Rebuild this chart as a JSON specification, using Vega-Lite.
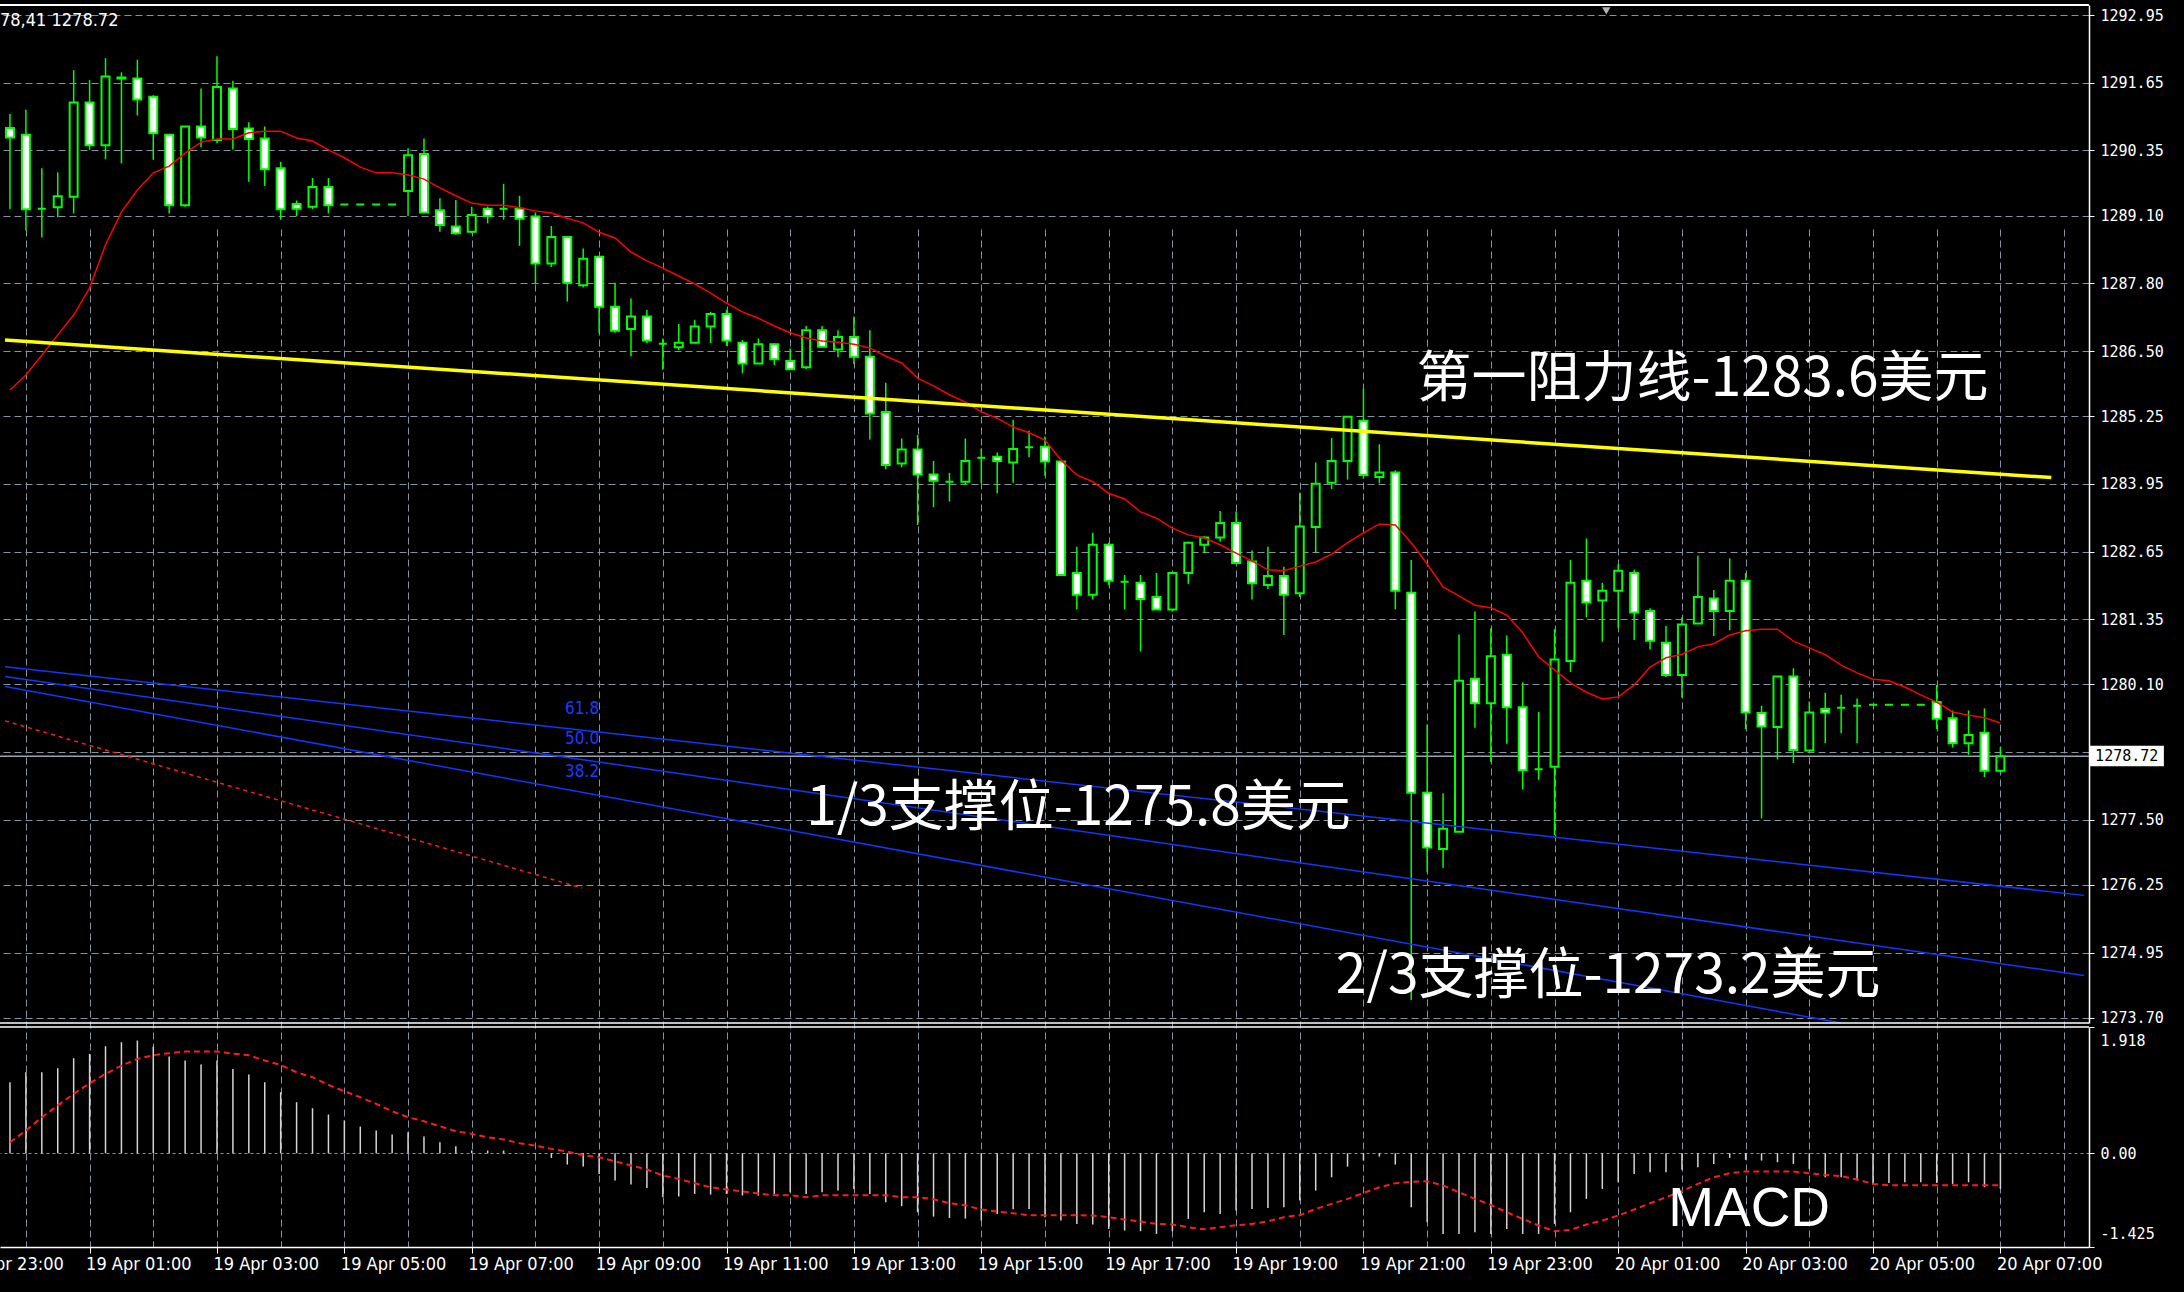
{
"$schema":"https://vega.github.io/schema/vega-lite/v6.json",
"width":2089,"height":1242,
"autosize":{"type":"none"},
"padding":{"left":0,"top":5,"right":95,"bottom":45},
"background":"#000000",
"config":{"view":{"stroke":null}},
"datasets":{"bars":[
{"t":"2017-04-18T23:45","o":1290.78,"h":1291.05,"l":1289.22,"c":1290.60,"ma":1285.75,"m":1.079,"s":0.167},
{"t":"2017-04-19T00:00","o":1290.65,"h":1291.13,"l":1288.82,"c":1289.22,"ma":1286.04,"m":1.231,"s":0.344},
{"t":"2017-04-19T00:15","o":1289.23,"h":1290.01,"l":1288.68,"c":1289.23,"ma":1286.42,"m":1.231,"s":0.547},
{"t":"2017-04-19T00:30","o":1289.26,"h":1289.93,"l":1289.07,"c":1289.47,"ma":1286.81,"m":1.292,"s":0.724},
{"t":"2017-04-19T00:45","o":1289.46,"h":1291.89,"l":1289.14,"c":1291.27,"ma":1287.19,"m":1.444,"s":0.902},
{"t":"2017-04-19T01:00","o":1291.27,"h":1291.70,"l":1290.36,"c":1290.45,"ma":1287.71,"m":1.509,"s":1.064},
{"t":"2017-04-19T01:15","o":1290.45,"h":1292.12,"l":1290.18,"c":1291.77,"ma":1288.54,"m":1.626,"s":1.205},
{"t":"2017-04-19T01:30","o":1291.75,"h":1291.85,"l":1290.10,"c":1291.73,"ma":1289.17,"m":1.687,"s":1.332},
{"t":"2017-04-19T01:45","o":1291.73,"h":1292.09,"l":1291.02,"c":1291.33,"ma":1289.59,"m":1.712,"s":1.433},
{"t":"2017-04-19T02:00","o":1291.38,"h":1291.41,"l":1290.17,"c":1290.68,"ma":1289.92,"m":1.621,"s":1.489},
{"t":"2017-04-19T02:15","o":1290.65,"h":1290.65,"l":1289.14,"c":1289.30,"ma":1290.05,"m":1.469,"s":1.520},
{"t":"2017-04-19T02:30","o":1289.30,"h":1290.81,"l":1289.27,"c":1290.81,"ma":1290.30,"m":1.408,"s":1.545},
{"t":"2017-04-19T02:45","o":1290.81,"h":1291.54,"l":1290.41,"c":1290.60,"ma":1290.51,"m":1.347,"s":1.545},
{"t":"2017-04-19T03:00","o":1290.55,"h":1292.16,"l":1290.49,"c":1291.57,"ma":1290.57,"m":1.408,"s":1.545},
{"t":"2017-04-19T03:15","o":1291.54,"h":1291.69,"l":1290.37,"c":1290.76,"ma":1290.57,"m":1.281,"s":1.514},
{"t":"2017-04-19T03:30","o":1290.77,"h":1290.89,"l":1289.75,"c":1290.57,"ma":1290.69,"m":1.195,"s":1.489},
{"t":"2017-04-19T03:45","o":1290.58,"h":1290.81,"l":1289.67,"c":1289.99,"ma":1290.72,"m":1.079,"s":1.408},
{"t":"2017-04-19T04:00","o":1290.01,"h":1290.13,"l":1289.02,"c":1289.22,"ma":1290.72,"m":0.927,"s":1.342},
{"t":"2017-04-19T04:15","o":1289.32,"h":1289.39,"l":1289.09,"c":1289.23,"ma":1290.59,"m":0.775,"s":1.231},
{"t":"2017-04-19T04:30","o":1289.27,"h":1289.82,"l":1289.22,"c":1289.65,"ma":1290.53,"m":0.684,"s":1.155},
{"t":"2017-04-19T04:45","o":1289.65,"h":1289.82,"l":1289.14,"c":1289.30,"ma":1290.36,"m":0.588,"s":1.038},
{"t":"2017-04-19T05:00","o":1289.31,"h":1289.31,"l":1289.31,"c":1289.31,"ma":1290.21,"m":0.496,"s":0.942},
{"t":"2017-04-19T05:15","o":1289.31,"h":1289.31,"l":1289.31,"c":1289.31,"ma":1290.03,"m":0.405,"s":0.851},
{"t":"2017-04-19T05:30","o":1289.31,"h":1289.31,"l":1289.31,"c":1289.31,"ma":1289.92,"m":0.344,"s":0.750},
{"t":"2017-04-19T05:45","o":1289.31,"h":1289.31,"l":1289.31,"c":1289.31,"ma":1289.92,"m":0.284,"s":0.638},
{"t":"2017-04-19T06:00","o":1289.57,"h":1290.39,"l":1289.09,"c":1290.26,"ma":1289.88,"m":0.319,"s":0.547},
{"t":"2017-04-19T06:15","o":1290.28,"h":1290.58,"l":1289.14,"c":1289.16,"ma":1289.80,"m":0.253,"s":0.486},
{"t":"2017-04-19T06:30","o":1289.20,"h":1289.43,"l":1288.79,"c":1288.92,"ma":1289.63,"m":0.167,"s":0.410},
{"t":"2017-04-19T06:45","o":1288.89,"h":1289.40,"l":1288.73,"c":1288.76,"ma":1289.48,"m":0.106,"s":0.334},
{"t":"2017-04-19T07:00","o":1288.79,"h":1289.27,"l":1288.76,"c":1289.11,"ma":1289.34,"m":0.041,"s":0.294},
{"t":"2017-04-19T07:15","o":1289.23,"h":1289.27,"l":1288.95,"c":1289.09,"ma":1289.30,"m":0.041,"s":0.243},
{"t":"2017-04-19T07:30","o":1289.23,"h":1289.71,"l":1289.02,"c":1289.23,"ma":1289.30,"m":0.041,"s":0.208},
{"t":"2017-04-19T07:45","o":1289.23,"h":1289.48,"l":1288.52,"c":1289.04,"ma":1289.25,"m":0.005,"s":0.152},
{"t":"2017-04-19T08:00","o":1289.08,"h":1289.16,"l":1287.80,"c":1288.18,"ma":1289.19,"m":-0.010,"s":0.116},
{"t":"2017-04-19T08:15","o":1288.18,"h":1288.90,"l":1288.11,"c":1288.69,"ma":1289.15,"m":-0.071,"s":0.066},
{"t":"2017-04-19T08:30","o":1288.69,"h":1288.69,"l":1287.45,"c":1287.81,"ma":1289.05,"m":-0.172,"s":0.025},
{"t":"2017-04-19T08:45","o":1287.76,"h":1288.47,"l":1287.72,"c":1288.27,"ma":1288.96,"m":-0.203,"s":-0.030},
{"t":"2017-04-19T09:00","o":1288.31,"h":1288.31,"l":1286.84,"c":1287.35,"ma":1288.78,"m":-0.314,"s":-0.061},
{"t":"2017-04-19T09:15","o":1287.35,"h":1287.81,"l":1286.85,"c":1286.89,"ma":1288.67,"m":-0.415,"s":-0.122},
{"t":"2017-04-19T09:30","o":1286.92,"h":1287.51,"l":1286.40,"c":1287.16,"ma":1288.40,"m":-0.476,"s":-0.187},
{"t":"2017-04-19T09:45","o":1287.16,"h":1287.29,"l":1286.65,"c":1286.70,"ma":1288.23,"m":-0.527,"s":-0.248},
{"t":"2017-04-19T10:00","o":1286.64,"h":1286.74,"l":1286.14,"c":1286.64,"ma":1288.09,"m":-0.669,"s":-0.339},
{"t":"2017-04-19T10:15","o":1286.57,"h":1287.02,"l":1286.52,"c":1286.66,"ma":1287.94,"m":-0.658,"s":-0.390},
{"t":"2017-04-19T10:30","o":1286.66,"h":1287.10,"l":1286.65,"c":1286.97,"ma":1287.79,"m":-0.618,"s":-0.456},
{"t":"2017-04-19T10:45","o":1286.97,"h":1287.25,"l":1286.65,"c":1287.21,"ma":1287.61,"m":-0.628,"s":-0.517},
{"t":"2017-04-19T11:00","o":1287.21,"h":1287.29,"l":1286.60,"c":1286.70,"ma":1287.42,"m":-0.618,"s":-0.552},
{"t":"2017-04-19T11:15","o":1286.66,"h":1286.71,"l":1286.07,"c":1286.26,"ma":1287.25,"m":-0.643,"s":-0.582},
{"t":"2017-04-19T11:30","o":1286.26,"h":1286.74,"l":1286.26,"c":1286.63,"ma":1287.13,"m":-0.643,"s":-0.613},
{"t":"2017-04-19T11:45","o":1286.63,"h":1286.65,"l":1286.23,"c":1286.34,"ma":1286.98,"m":-0.618,"s":-0.638},
{"t":"2017-04-19T12:00","o":1286.31,"h":1286.55,"l":1286.15,"c":1286.15,"ma":1286.85,"m":-0.593,"s":-0.638},
{"t":"2017-04-19T12:15","o":1286.19,"h":1286.98,"l":1286.15,"c":1286.90,"ma":1286.75,"m":-0.618,"s":-0.669},
{"t":"2017-04-19T12:30","o":1286.90,"h":1286.98,"l":1286.57,"c":1286.58,"ma":1286.69,"m":-0.593,"s":-0.638},
{"t":"2017-04-19T12:45","o":1286.53,"h":1286.90,"l":1286.38,"c":1286.77,"ma":1286.67,"m":-0.567,"s":-0.638},
{"t":"2017-04-19T13:00","o":1286.77,"h":1287.16,"l":1286.25,"c":1286.39,"ma":1286.63,"m":-0.542,"s":-0.638},
{"t":"2017-04-19T13:15","o":1286.39,"h":1286.90,"l":1284.80,"c":1285.30,"ma":1286.56,"m":-0.618,"s":-0.638},
{"t":"2017-04-19T13:30","o":1285.33,"h":1285.89,"l":1284.23,"c":1284.31,"ma":1286.40,"m":-0.744,"s":-0.638},
{"t":"2017-04-19T13:45","o":1284.34,"h":1284.82,"l":1284.27,"c":1284.61,"ma":1286.27,"m":-0.805,"s":-0.669},
{"t":"2017-04-19T14:00","o":1284.61,"h":1284.89,"l":1283.16,"c":1284.13,"ma":1285.98,"m":-0.897,"s":-0.669},
{"t":"2017-04-19T14:15","o":1284.13,"h":1284.39,"l":1283.50,"c":1284.01,"ma":1285.83,"m":-0.962,"s":-0.699},
{"t":"2017-04-19T14:30","o":1283.99,"h":1284.16,"l":1283.61,"c":1283.99,"ma":1285.66,"m":-0.983,"s":-0.760},
{"t":"2017-04-19T14:45","o":1283.99,"h":1284.82,"l":1283.93,"c":1284.39,"ma":1285.52,"m":-0.993,"s":-0.790},
{"t":"2017-04-19T15:00","o":1284.45,"h":1284.63,"l":1283.96,"c":1284.45,"ma":1285.33,"m":-1.023,"s":-0.856},
{"t":"2017-04-19T15:15","o":1284.47,"h":1284.55,"l":1283.77,"c":1284.39,"ma":1285.21,"m":-0.922,"s":-0.886},
{"t":"2017-04-19T15:30","o":1284.36,"h":1285.18,"l":1283.97,"c":1284.62,"ma":1285.04,"m":-0.851,"s":-0.912},
{"t":"2017-04-19T15:45","o":1284.65,"h":1284.97,"l":1284.46,"c":1284.65,"ma":1284.93,"m":-0.846,"s":-0.942},
{"t":"2017-04-19T16:00","o":1284.66,"h":1284.86,"l":1284.10,"c":1284.38,"ma":1284.79,"m":-0.972,"s":-0.942},
{"t":"2017-04-19T16:15","o":1284.38,"h":1284.39,"l":1282.20,"c":1282.20,"ma":1284.41,"m":-1.023,"s":-0.942},
{"t":"2017-04-19T16:30","o":1282.24,"h":1282.74,"l":1281.54,"c":1281.82,"ma":1284.12,"m":-1.074,"s":-0.942},
{"t":"2017-04-19T16:45","o":1281.82,"h":1283.01,"l":1281.73,"c":1282.78,"ma":1283.99,"m":-1.084,"s":-0.947},
{"t":"2017-04-19T17:00","o":1282.78,"h":1282.82,"l":1282.01,"c":1282.09,"ma":1283.77,"m":-1.150,"s":-0.972},
{"t":"2017-04-19T17:15","o":1282.07,"h":1282.20,"l":1281.54,"c":1282.07,"ma":1283.66,"m":-1.175,"s":-1.008},
{"t":"2017-04-19T17:30","o":1282.05,"h":1282.20,"l":1280.73,"c":1281.74,"ma":1283.41,"m":-1.185,"s":-1.038},
{"t":"2017-04-19T17:45","o":1281.78,"h":1282.24,"l":1281.54,"c":1281.54,"ma":1283.29,"m":-1.226,"s":-1.074},
{"t":"2017-04-19T18:00","o":1281.54,"h":1282.26,"l":1281.50,"c":1282.24,"ma":1283.10,"m":-1.185,"s":-1.084},
{"t":"2017-04-19T18:15","o":1282.24,"h":1282.84,"l":1282.03,"c":1282.82,"ma":1282.97,"m":-0.998,"s":-1.124},
{"t":"2017-04-19T18:30","o":1282.78,"h":1282.94,"l":1282.62,"c":1282.92,"ma":1282.91,"m":-0.897,"s":-1.155},
{"t":"2017-04-19T18:45","o":1282.92,"h":1283.43,"l":1282.84,"c":1283.20,"ma":1282.78,"m":-0.922,"s":-1.124},
{"t":"2017-04-19T19:00","o":1283.20,"h":1283.42,"l":1282.43,"c":1282.43,"ma":1282.62,"m":-0.871,"s":-1.094},
{"t":"2017-04-19T19:15","o":1282.46,"h":1282.67,"l":1281.73,"c":1282.04,"ma":1282.47,"m":-0.846,"s":-1.074},
{"t":"2017-04-19T19:30","o":1282.01,"h":1282.74,"l":1281.93,"c":1282.18,"ma":1282.30,"m":-0.831,"s":-1.033},
{"t":"2017-04-19T19:45","o":1282.18,"h":1282.36,"l":1281.05,"c":1281.82,"ma":1282.28,"m":-0.821,"s":-0.972},
{"t":"2017-04-19T20:00","o":1281.85,"h":1283.78,"l":1281.78,"c":1283.13,"ma":1282.37,"m":-0.719,"s":-0.942},
{"t":"2017-04-19T20:15","o":1283.12,"h":1284.36,"l":1282.62,"c":1283.95,"ma":1282.45,"m":-0.567,"s":-0.846},
{"t":"2017-04-19T20:30","o":1283.97,"h":1284.83,"l":1283.85,"c":1284.39,"ma":1282.60,"m":-0.365,"s":-0.770},
{"t":"2017-04-19T20:45","o":1284.39,"h":1285.24,"l":1284.03,"c":1285.24,"ma":1282.82,"m":-0.203,"s":-0.694},
{"t":"2017-04-19T21:00","o":1285.16,"h":1285.78,"l":1284.05,"c":1284.12,"ma":1283.01,"m":-0.111,"s":-0.603},
{"t":"2017-04-19T21:15","o":1284.08,"h":1284.71,"l":1283.96,"c":1284.17,"ma":1283.18,"m":-0.051,"s":-0.517},
{"t":"2017-04-19T21:30","o":1284.17,"h":1284.21,"l":1281.54,"c":1281.90,"ma":1283.16,"m":-0.172,"s":-0.456},
{"t":"2017-04-19T21:45","o":1281.86,"h":1282.49,"l":1274.04,"c":1278.02,"ma":1282.82,"m":-0.821,"s":-0.436},
{"t":"2017-04-19T22:00","o":1278.02,"h":1279.33,"l":1276.50,"c":1276.97,"ma":1282.41,"m":-1.048,"s":-0.425},
{"t":"2017-04-19T22:15","o":1276.94,"h":1278.01,"l":1276.58,"c":1277.33,"ma":1281.97,"m":-1.226,"s":-0.491},
{"t":"2017-04-19T22:30","o":1277.27,"h":1281.06,"l":1277.27,"c":1280.17,"ma":1281.80,"m":-1.226,"s":-0.593},
{"t":"2017-04-19T22:45","o":1280.21,"h":1281.50,"l":1279.27,"c":1279.74,"ma":1281.62,"m":-1.200,"s":-0.694},
{"t":"2017-04-19T23:00","o":1279.74,"h":1281.18,"l":1278.61,"c":1280.64,"ma":1281.57,"m":-1.226,"s":-0.785},
{"t":"2017-04-19T23:15","o":1280.67,"h":1281.04,"l":1278.96,"c":1279.66,"ma":1281.43,"m":-1.150,"s":-0.897},
{"t":"2017-04-19T23:30","o":1279.66,"h":1280.14,"l":1278.08,"c":1278.45,"ma":1281.09,"m":-1.226,"s":-0.998},
{"t":"2017-04-19T23:45","o":1278.47,"h":1279.57,"l":1278.27,"c":1278.47,"ma":1280.63,"m":-1.226,"s":-1.099},
{"t":"2017-04-20T00:00","o":1278.52,"h":1281.16,"l":1277.21,"c":1280.58,"ma":1280.38,"m":-1.074,"s":-1.185},
{"t":"2017-04-20T00:15","o":1280.55,"h":1282.49,"l":1280.34,"c":1282.05,"ma":1280.13,"m":-0.897,"s":-1.165},
{"t":"2017-04-20T00:30","o":1282.09,"h":1282.90,"l":1281.39,"c":1281.67,"ma":1279.95,"m":-0.694,"s":-1.084},
{"t":"2017-04-20T00:45","o":1281.71,"h":1282.05,"l":1280.92,"c":1281.90,"ma":1279.82,"m":-0.542,"s":-1.023},
{"t":"2017-04-20T01:00","o":1281.90,"h":1282.41,"l":1281.18,"c":1282.28,"ma":1279.86,"m":-0.441,"s":-0.947},
{"t":"2017-04-20T01:15","o":1282.24,"h":1282.30,"l":1280.95,"c":1281.48,"ma":1280.09,"m":-0.314,"s":-0.856},
{"t":"2017-04-20T01:30","o":1281.51,"h":1281.56,"l":1280.77,"c":1280.94,"ma":1280.43,"m":-0.289,"s":-0.760},
{"t":"2017-04-20T01:45","o":1280.90,"h":1281.22,"l":1280.24,"c":1280.28,"ma":1280.61,"m":-0.289,"s":-0.669},
{"t":"2017-04-20T02:00","o":1280.28,"h":1281.39,"l":1279.85,"c":1281.25,"ma":1280.68,"m":-0.253,"s":-0.577},
{"t":"2017-04-20T02:15","o":1281.27,"h":1282.57,"l":1281.27,"c":1281.78,"ma":1280.82,"m":-0.213,"s":-0.466},
{"t":"2017-04-20T02:30","o":1281.75,"h":1281.91,"l":1281.03,"c":1281.51,"ma":1280.88,"m":-0.162,"s":-0.365},
{"t":"2017-04-20T02:45","o":1281.51,"h":1282.52,"l":1281.14,"c":1282.09,"ma":1281.05,"m":-0.071,"s":-0.304},
{"t":"2017-04-20T03:00","o":1282.09,"h":1282.24,"l":1279.24,"c":1279.56,"ma":1281.13,"m":-0.101,"s":-0.279},
{"t":"2017-04-20T03:15","o":1279.55,"h":1279.69,"l":1277.53,"c":1279.29,"ma":1281.16,"m":-0.111,"s":-0.279},
{"t":"2017-04-20T03:30","o":1279.28,"h":1280.25,"l":1278.66,"c":1280.25,"ma":1281.16,"m":-0.137,"s":-0.279},
{"t":"2017-04-20T03:45","o":1280.25,"h":1280.41,"l":1278.59,"c":1278.84,"ma":1280.93,"m":-0.162,"s":-0.279},
{"t":"2017-04-20T04:00","o":1278.83,"h":1279.77,"l":1278.83,"c":1279.56,"ma":1280.80,"m":-0.238,"s":-0.304},
{"t":"2017-04-20T04:15","o":1279.63,"h":1279.94,"l":1278.97,"c":1279.56,"ma":1280.67,"m":-0.365,"s":-0.329},
{"t":"2017-04-20T04:30","o":1279.65,"h":1279.90,"l":1279.16,"c":1279.65,"ma":1280.47,"m":-0.365,"s":-0.349},
{"t":"2017-04-20T04:45","o":1279.69,"h":1279.83,"l":1278.97,"c":1279.69,"ma":1280.32,"m":-0.415,"s":-0.400},
{"t":"2017-04-20T05:00","o":1279.71,"h":1279.71,"l":1279.71,"c":1279.71,"ma":1280.20,"m":-0.466,"s":-0.466},
{"t":"2017-04-20T05:15","o":1279.71,"h":1279.71,"l":1279.71,"c":1279.71,"ma":1280.17,"m":-0.451,"s":-0.486},
{"t":"2017-04-20T05:30","o":1279.71,"h":1279.71,"l":1279.71,"c":1279.71,"ma":1280.05,"m":-0.441,"s":-0.486},
{"t":"2017-04-20T05:45","o":1279.71,"h":1279.71,"l":1279.71,"c":1279.71,"ma":1279.90,"m":-0.441,"s":-0.486},
{"t":"2017-04-20T06:00","o":1279.76,"h":1280.09,"l":1279.24,"c":1279.44,"ma":1279.76,"m":-0.451,"s":-0.486},
{"t":"2017-04-20T06:15","o":1279.45,"h":1279.60,"l":1278.89,"c":1278.97,"ma":1279.57,"m":-0.466,"s":-0.486},
{"t":"2017-04-20T06:30","o":1278.97,"h":1279.60,"l":1278.75,"c":1279.13,"ma":1279.51,"m":-0.441,"s":-0.486},
{"t":"2017-04-20T06:45","o":1279.17,"h":1279.64,"l":1278.32,"c":1278.44,"ma":1279.46,"m":-0.517,"s":-0.486},
{"t":"2017-04-20T07:00","o":1278.44,"h":1278.90,"l":1278.41,"c":1278.72,"ma":1279.36,"m":-0.542,"s":-0.486}
]},
"data":{"name":"bars"},
"resolve":{"scale":{"y":"independent"},"axis":{"y":"independent"}},
"layer":[
{"layer":[
 {"data":{"values":[{}]},
  "mark":{"type":"rule","color":"#9aa5b1","strokeWidth":1.5},
  "encoding":{"y":{"datum":1278.72,"type":"quantitative","scale":{"domain":[1273.60,1293.142],"range":[1018,0],"nice":false,"zero":false}}}},
 {"mark":{"type":"rule","color":"#00ff00","strokeWidth":1.5},
  "encoding":{
   "x":{"field":"t","type":"temporal","title":null,
     "scale":{"domain":[{"year":2017,"month":4,"date":18,"hours":23,"minutes":40,"seconds":19},{"year":2017,"month":4,"date":20,"hours":8,"minutes":18,"seconds":45}]},
     "axis":{"orient":"bottom","title":null,
       "values":[
        {"year":2017,"month":4,"date":19,"hours":0},{"year":2017,"month":4,"date":19,"hours":1},{"year":2017,"month":4,"date":19,"hours":2},{"year":2017,"month":4,"date":19,"hours":3},{"year":2017,"month":4,"date":19,"hours":4},{"year":2017,"month":4,"date":19,"hours":5},{"year":2017,"month":4,"date":19,"hours":6},{"year":2017,"month":4,"date":19,"hours":7},{"year":2017,"month":4,"date":19,"hours":8},{"year":2017,"month":4,"date":19,"hours":9},{"year":2017,"month":4,"date":19,"hours":10},{"year":2017,"month":4,"date":19,"hours":11},{"year":2017,"month":4,"date":19,"hours":12},{"year":2017,"month":4,"date":19,"hours":13},{"year":2017,"month":4,"date":19,"hours":14},{"year":2017,"month":4,"date":19,"hours":15},{"year":2017,"month":4,"date":19,"hours":16},{"year":2017,"month":4,"date":19,"hours":17},{"year":2017,"month":4,"date":19,"hours":18},{"year":2017,"month":4,"date":19,"hours":19},{"year":2017,"month":4,"date":19,"hours":20},{"year":2017,"month":4,"date":19,"hours":21},{"year":2017,"month":4,"date":19,"hours":22},{"year":2017,"month":4,"date":19,"hours":23},
        {"year":2017,"month":4,"date":20,"hours":0},{"year":2017,"month":4,"date":20,"hours":1},{"year":2017,"month":4,"date":20,"hours":2},{"year":2017,"month":4,"date":20,"hours":3},{"year":2017,"month":4,"date":20,"hours":4},{"year":2017,"month":4,"date":20,"hours":5},{"year":2017,"month":4,"date":20,"hours":6},{"year":2017,"month":4,"date":20,"hours":7},{"year":2017,"month":4,"date":20,"hours":8}],
       "labelExpr":"hours(datum.value) % 2 == 1 ? timeFormat(datum.value, '%d %b %H:%M') : ''",
       "labelAlign":"left","labelBaseline":"top","labelFlush":false,"labelOverlap":false,"labelBound":false,
       "labelFont":"DejaVu Sans Condensed","labelFontSize":18,"labelColor":"#ffffff","labelPadding":2,"labelOffset":-4,
       "tickColor":"#ffffff","tickSize":6,"tickWidth":1,
       "tickOpacity":{"condition":{"test":"hours(datum.value) % 2 == 1","value":1},"value":0},
       "domainColor":"#ffffff","domainWidth":1.5,
       "grid":true,"gridColor":"#8493a2","gridDash":[7,4],"gridWidth":1}},
   "y":{"field":"l","type":"quantitative","scale":{"domain":[1273.60,1293.142],"range":[1018,0],"nice":false,"zero":false},
     "axis":{"orient":"right","title":null,
       "values":[1292.95,1291.65,1290.35,1289.10,1287.80,1286.50,1285.25,1283.95,1282.65,1281.35,1280.10,1278.80,1277.50,1276.25,1274.95,1273.70],
       "format":".2f","labelFont":"DejaVu Sans Mono","labelFontSize":15,"labelColor":"#ffffff","labelPadding":6,
       "labelOverlap":false,"labelFlush":false,"labelBound":false,
       "tickColor":"#ffffff","tickSize":5,"tickWidth":1,"domainColor":"#ffffff","domainWidth":1.5,
       "grid":true,"gridColor":"#8493a2","gridDash":[7,4],"gridWidth":1}},
   "y2":{"field":"h"}}},
 {"mark":{"type":"bar","width":8,"stroke":"#00ff00","strokeWidth":2},
  "encoding":{
   "x":{"field":"t","type":"temporal","title":null,"scale":{"domain":[{"year":2017,"month":4,"date":18,"hours":23,"minutes":40,"seconds":19},{"year":2017,"month":4,"date":20,"hours":8,"minutes":18,"seconds":45}]}},
   "y":{"field":"o","type":"quantitative","scale":{"domain":[1273.60,1293.142],"range":[1018,0],"nice":false,"zero":false}},
   "y2":{"field":"c"},
   "fill":{"condition":{"test":"datum.c < datum.o","value":"#ffffff"},"value":"#000000"}}},
 {"mark":{"type":"line","color":"#ff0000","strokeWidth":1.5},
  "encoding":{
   "x":{"field":"t","type":"temporal","title":null,"scale":{"domain":[{"year":2017,"month":4,"date":18,"hours":23,"minutes":40,"seconds":19},{"year":2017,"month":4,"date":20,"hours":8,"minutes":18,"seconds":45}]}},
   "y":{"field":"ma","type":"quantitative","scale":{"domain":[1273.60,1293.142],"range":[1018,0],"nice":false,"zero":false}}}},
 {"data":{"values":[{"t":"2017-04-18T23:40:19","p":1286.71},{"t":"2017-04-20T07:48:00","p":1284.07}]},
  "mark":{"type":"line","color":"#ffff00","strokeWidth":3.5},
  "encoding":{
   "x":{"field":"t","type":"temporal","title":null,"scale":{"domain":[{"year":2017,"month":4,"date":18,"hours":23,"minutes":40,"seconds":19},{"year":2017,"month":4,"date":20,"hours":8,"minutes":18,"seconds":45}]}},
   "y":{"field":"p","type":"quantitative","scale":{"domain":[1273.60,1293.142],"range":[1018,0],"nice":false,"zero":false}}}},
 {"data":{"values":[
   {"id":"a","t":"2017-04-18T23:40:19","p":1280.44},{"id":"a","t":"2017-04-20T08:18:45","p":1276.05},
   {"id":"b","t":"2017-04-18T23:40:19","p":1280.25},{"id":"b","t":"2017-04-20T08:18:45","p":1274.51},
   {"id":"c","t":"2017-04-18T23:40:19","p":1280.06},{"id":"c","t":"2017-04-20T04:30:00","p":1273.60}]},
  "mark":{"type":"line","color":"#1036ff","strokeWidth":1.5},
  "encoding":{
   "x":{"field":"t","type":"temporal","title":null,"scale":{"domain":[{"year":2017,"month":4,"date":18,"hours":23,"minutes":40,"seconds":19},{"year":2017,"month":4,"date":20,"hours":8,"minutes":18,"seconds":45}]}},
   "y":{"field":"p","type":"quantitative","scale":{"domain":[1273.60,1293.142],"range":[1018,0],"nice":false,"zero":false}},
   "detail":{"field":"id"}}},
 {"data":{"values":[{"t":"2017-04-18T23:40:19","p":1279.40},{"t":"2017-04-19T08:44:00","p":1276.19}]},
  "mark":{"type":"line","color":"#ff1a1a","strokeWidth":1.5,"strokeDash":[4,4]},
  "encoding":{
   "x":{"field":"t","type":"temporal","title":null,"scale":{"domain":[{"year":2017,"month":4,"date":18,"hours":23,"minutes":40,"seconds":19},{"year":2017,"month":4,"date":20,"hours":8,"minutes":18,"seconds":45}]}},
   "y":{"field":"p","type":"quantitative","scale":{"domain":[1273.60,1293.142],"range":[1018,0],"nice":false,"zero":false}}}},
 {"data":{"values":[{"t":"2017-04-19T09:00:00","p":1279.63,"txt":"61.8"},{"t":"2017-04-19T09:00:00","p":1279.05,"txt":"50.0"},{"t":"2017-04-19T09:00:00","p":1278.42,"txt":"38.2"}]},
  "mark":{"type":"text","color":"#1a3cff","font":"DejaVu Sans Condensed","fontSize":17,"align":"right","baseline":"middle"},
  "encoding":{
   "x":{"field":"t","type":"temporal","title":null,"scale":{"domain":[{"year":2017,"month":4,"date":18,"hours":23,"minutes":40,"seconds":19},{"year":2017,"month":4,"date":20,"hours":8,"minutes":18,"seconds":45}]}},
   "y":{"field":"p","type":"quantitative","scale":{"domain":[1273.60,1293.142],"range":[1018,0],"nice":false,"zero":false}},
   "text":{"field":"txt"}}},
 {"data":{"values":[{}]},
  "mark":{"type":"rule","color":"#ffffff","strokeWidth":2},
  "encoding":{"y":{"datum":1293.142,"type":"quantitative","scale":{"domain":[1273.60,1293.142],"range":[1018,0],"nice":false,"zero":false}}}},
 {"data":{"values":[{}]},
  "mark":{"type":"rule","color":"#ffffff","strokeWidth":1.5},
  "encoding":{"y":{"datum":1273.60,"type":"quantitative","scale":{"domain":[1273.60,1293.142],"range":[1018,0],"nice":false,"zero":false}}}},
 {"data":{"values":[{}]},
  "mark":{"type":"rect","color":"#ffffff"},
  "encoding":{
   "x":{"datum":{"year":2017,"month":4,"date":20,"hours":8,"minutes":24},"type":"temporal","scale":{"domain":[{"year":2017,"month":4,"date":18,"hours":23,"minutes":40,"seconds":19},{"year":2017,"month":4,"date":20,"hours":8,"minutes":18,"seconds":45}]}},
   "x2":{"datum":{"year":2017,"month":4,"date":20,"hours":9,"minutes":34}},
   "y":{"datum":1278.92,"type":"quantitative","scale":{"domain":[1273.60,1293.142],"range":[1018,0],"nice":false,"zero":false}},
   "y2":{"datum":1278.53}}},
 {"data":{"values":[{}]},
  "mark":{"type":"text","text":"1278.72","color":"#000000","font":"DejaVu Sans Mono","fontSize":15,"align":"center","baseline":"middle"},
  "encoding":{
   "x":{"datum":{"year":2017,"month":4,"date":20,"hours":8,"minutes":59},"type":"temporal","scale":{"domain":[{"year":2017,"month":4,"date":18,"hours":23,"minutes":40,"seconds":19},{"year":2017,"month":4,"date":20,"hours":8,"minutes":18,"seconds":45}]}},
   "y":{"datum":1278.72,"type":"quantitative","scale":{"domain":[1273.60,1293.142],"range":[1018,0],"nice":false,"zero":false}}}},
 {"data":{"values":[
   {"t":"2017-04-19T21:50:00","p":1285.96,"txt":"第一阻力线-1283.6美元"},
   {"t":"2017-04-19T12:15:00","p":1277.73,"txt":"1/3支撑位-1275.8美元"},
   {"t":"2017-04-19T20:34:00","p":1274.50,"txt":"2/3支撑位-1273.2美元"}]},
  "mark":{"type":"text","color":"#ffffff","font":"Noto Sans CJK SC","fontSize":55,"align":"left","baseline":"middle"},
  "encoding":{
   "x":{"field":"t","type":"temporal","title":null,"scale":{"domain":[{"year":2017,"month":4,"date":18,"hours":23,"minutes":40,"seconds":19},{"year":2017,"month":4,"date":20,"hours":8,"minutes":18,"seconds":45}]}},
   "y":{"field":"p","type":"quantitative","scale":{"domain":[1273.60,1293.142],"range":[1018,0],"nice":false,"zero":false}},
   "text":{"field":"txt"}}},
 {"data":{"values":[{"t":"2017-04-18T23:40:19","p":1292.84,"txt":"78,41 1278.72"}]},
  "mark":{"type":"text","color":"#ffffff","font":"DejaVu Sans Condensed","fontSize":18,"align":"left","baseline":"middle","dx":-5},
  "encoding":{
   "x":{"field":"t","type":"temporal","title":null,"scale":{"domain":[{"year":2017,"month":4,"date":18,"hours":23,"minutes":40,"seconds":19},{"year":2017,"month":4,"date":20,"hours":8,"minutes":18,"seconds":45}]}},
   "y":{"field":"p","type":"quantitative","scale":{"domain":[1273.60,1293.142],"range":[1018,0],"nice":false,"zero":false}},
   "text":{"field":"txt"}}},
 {"data":{"values":[{}]},
  "mark":{"type":"point","shape":"triangle-down","filled":true,"color":"#b4b4b4","size":70,"opacity":1},
  "encoding":{
   "x":{"datum":{"year":2017,"month":4,"date":20,"hours":0,"minutes":48,"seconds":45},"type":"temporal","scale":{"domain":[{"year":2017,"month":4,"date":18,"hours":23,"minutes":40,"seconds":19},{"year":2017,"month":4,"date":20,"hours":8,"minutes":18,"seconds":45}]}},
   "y":{"datum":1293.03,"type":"quantitative","scale":{"domain":[1273.60,1293.142],"range":[1018,0],"nice":false,"zero":false}}}}
]},
{"layer":[
 {"mark":{"type":"rule","color":"#d4d4d4","strokeWidth":1.5},
  "encoding":{
   "x":{"field":"t","type":"temporal","title":null,"scale":{"domain":[{"year":2017,"month":4,"date":18,"hours":23,"minutes":40,"seconds":19},{"year":2017,"month":4,"date":20,"hours":8,"minutes":18,"seconds":45}]}},
   "y":{"field":"m","type":"quantitative","scale":{"domain":[-1.425,1.918],"range":[1242,1022],"nice":false,"zero":false},
     "axis":{"orient":"right","title":null,"values":[1.918,0,-1.425],
       "labelExpr":"datum.value == 0 ? '0.00' : (datum.value < 0 ? '-' + format(-datum.value, '.3f') : format(datum.value, '.3f'))",
       "labelFont":"DejaVu Sans Mono","labelFontSize":15,"labelColor":"#ffffff","labelPadding":6,
       "labelFlush":true,"labelFlushOffset":-6,"labelOverlap":false,"labelBound":false,
       "tickColor":"#ffffff","tickSize":5,"tickWidth":1,"domainColor":"#ffffff","domainWidth":1.5,
       "grid":true,"gridColor":"#8493a2","gridDash":[3,3],"gridWidth":1,
       "gridOpacity":{"condition":{"test":"datum.value == 0","value":1},"value":0}}},
   "y2":{"datum":0}}},
 {"mark":{"type":"line","color":"#ff1a1a","strokeWidth":2,"strokeDash":[6,4]},
  "encoding":{
   "x":{"field":"t","type":"temporal","title":null,"scale":{"domain":[{"year":2017,"month":4,"date":18,"hours":23,"minutes":40,"seconds":19},{"year":2017,"month":4,"date":20,"hours":8,"minutes":18,"seconds":45}]}},
   "y":{"field":"s","type":"quantitative","scale":{"domain":[-1.425,1.918],"range":[1242,1022],"nice":false,"zero":false}}}},
 {"data":{"values":[{}]},
  "mark":{"type":"rule","color":"#ffffff","strokeWidth":1.5},
  "encoding":{"y":{"datum":1.918,"type":"quantitative","scale":{"domain":[-1.425,1.918],"range":[1242,1022],"nice":false,"zero":false}}}},
 {"data":{"values":[{"t":"2017-04-20T01:47:00","v":-0.852,"txt":"MACD"}]},
  "mark":{"type":"text","color":"#ffffff","font":"Liberation Sans","fontSize":55,"align":"left","baseline":"middle"},
  "encoding":{
   "x":{"field":"t","type":"temporal","title":null,"scale":{"domain":[{"year":2017,"month":4,"date":18,"hours":23,"minutes":40,"seconds":19},{"year":2017,"month":4,"date":20,"hours":8,"minutes":18,"seconds":45}]}},
   "y":{"field":"v","type":"quantitative","scale":{"domain":[-1.425,1.918],"range":[1242,1022],"nice":false,"zero":false}},
   "text":{"field":"txt"}}},
 {"data":{"values":[{"t":"2017-04-18T23:00:00","v":-1.70,"txt":"18 Apr 23:00"}]},
  "mark":{"type":"text","color":"#ffffff","font":"DejaVu Sans Condensed","fontSize":18,"align":"left","baseline":"middle","dx":-4},
  "encoding":{
   "x":{"field":"t","type":"temporal","title":null,"scale":{"domain":[{"year":2017,"month":4,"date":18,"hours":23,"minutes":40,"seconds":19},{"year":2017,"month":4,"date":20,"hours":8,"minutes":18,"seconds":45}]}},
   "y":{"field":"v","type":"quantitative","scale":{"domain":[-1.425,1.918],"range":[1242,1022],"nice":false,"zero":false}},
   "text":{"field":"txt"}}}
]}
]
}
